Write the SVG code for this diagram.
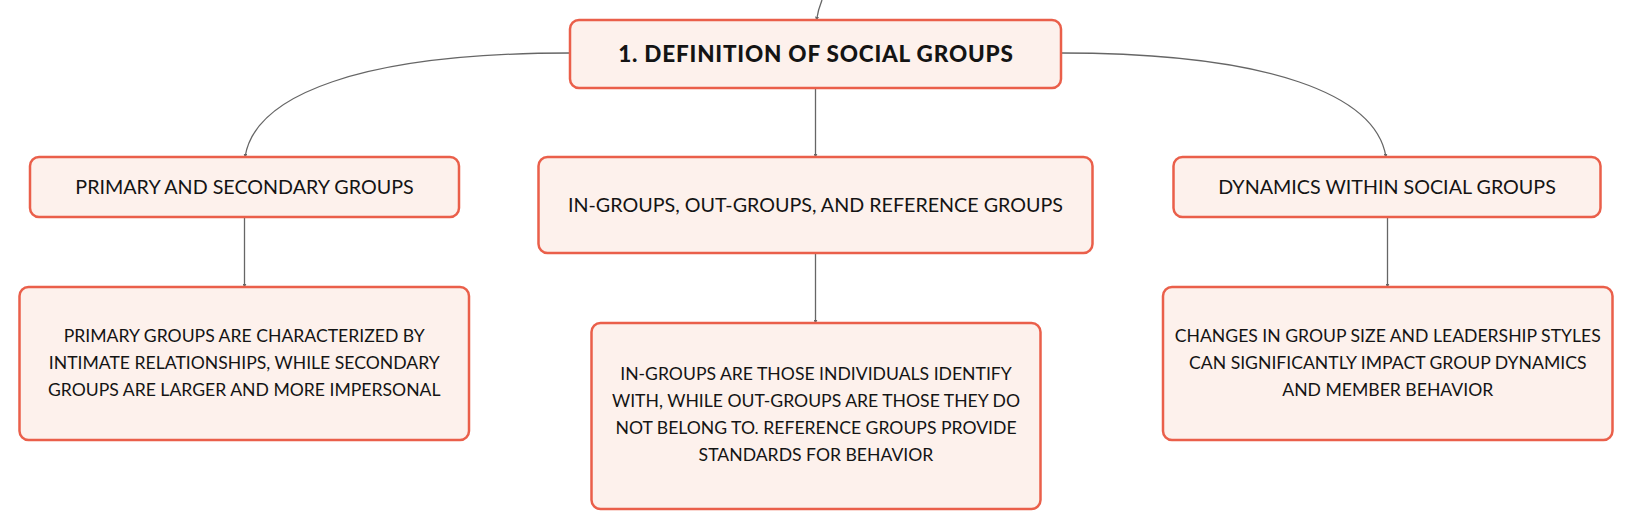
<svg xmlns="http://www.w3.org/2000/svg" width="1633" height="530" viewBox="0 0 1633 530">
<defs>
<style>
.box{fill:#fdf1ec;stroke:#ea5f4a;stroke-width:2.5}
.t{font-family:Lato,"Noto Sans",sans-serif;fill:#141414;text-anchor:middle}
.title{font-size:19.7px}
.body{font-size:17.6px}
.main{font-size:22.5px;font-weight:900;letter-spacing:0.8px}
.edge{fill:none;stroke:#666;stroke-width:1.3;marker-end:url(#arr)}
</style>
<marker id="arr" viewBox="0 0 6 6" refX="5" refY="3" markerWidth="4" markerHeight="4" orient="auto" markerUnits="userSpaceOnUse">
<path d="M0,0 L6,3 L0,6 z" fill="#666"/>
</marker>
</defs>
<rect width="1633" height="530" fill="#ffffff"/>
<g id="connectors">
<path class="edge" d="M822,0 Q818,10 816.5,20"/>
<path class="edge" d="M570,53 C360,53 255,95 245,157"/>
<path class="edge" d="M1061,53 C1271,53 1376,95 1386,157"/>
<path class="edge" d="M815.5,88 L815.5,157"/>
<path class="edge" d="M244.5,217 L244.5,287"/>
<path class="edge" d="M1387.5,217 L1387.5,287"/>
<path class="edge" d="M815.5,253 L815.5,323"/>
</g>
<g id="main">
<rect class="box" x="570" y="20" width="491" height="68" rx="9"/>
<text class="t main" x="815.9" y="62">1. DEFINITION OF SOCIAL GROUPS</text>
</g>
<g id="primary">
<rect class="box" x="30" y="157" width="429" height="60" rx="9"/>
<text class="t title" x="244.5" y="194">PRIMARY AND SECONDARY GROUPS</text>
</g>
<g id="primary-detail">
<rect class="box" x="19.5" y="287" width="449.5" height="153" rx="9"/>
<text class="t body" x="244.25" y="342">PRIMARY GROUPS ARE CHARACTERIZED BY</text>
<text class="t body" x="244.25" y="369">INTIMATE RELATIONSHIPS, WHILE SECONDARY</text>
<text class="t body" x="244.25" y="396">GROUPS ARE LARGER AND MORE IMPERSONAL</text>
</g>
<g id="ingroups">
<rect class="box" x="538.5" y="157" width="554" height="96" rx="9"/>
<text class="t title" x="815.5" y="212">IN-GROUPS, OUT-GROUPS, AND REFERENCE GROUPS</text>
</g>
<g id="ingroups-detail">
<rect class="box" x="591.5" y="323" width="449" height="186" rx="9"/>
<text class="t body" x="816" y="380">IN-GROUPS ARE THOSE INDIVIDUALS IDENTIFY</text>
<text class="t body" x="816" y="407">WITH, WHILE OUT-GROUPS ARE THOSE THEY DO</text>
<text class="t body" x="816" y="434">NOT BELONG TO. REFERENCE GROUPS PROVIDE</text>
<text class="t body" x="816" y="461">STANDARDS FOR BEHAVIOR</text>
</g>
<g id="dynamics">
<rect class="box" x="1173.5" y="157" width="427" height="60" rx="9"/>
<text class="t title" x="1387" y="194">DYNAMICS WITHIN SOCIAL GROUPS</text>
</g>
<g id="dynamics-detail">
<rect class="box" x="1163" y="287" width="449.5" height="153" rx="9"/>
<text class="t body" x="1387.75" y="342">CHANGES IN GROUP SIZE AND LEADERSHIP STYLES</text>
<text class="t body" x="1387.75" y="369">CAN SIGNIFICANTLY IMPACT GROUP DYNAMICS</text>
<text class="t body" x="1387.75" y="396">AND MEMBER BEHAVIOR</text>
</g>
</svg>
